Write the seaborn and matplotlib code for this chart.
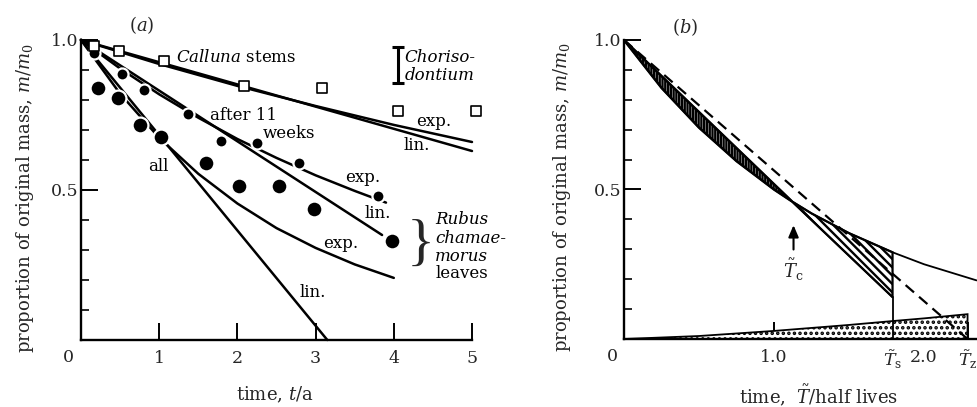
import numpy as np
import pandas as pd
import matplotlib
matplotlib.use("Agg")
import matplotlib.pyplot as plt
import seaborn as sns

# ---------------- panel (a) data ----------------
calluna_t = [0.17, 0.49, 1.06, 2.08, 3.08, 4.05, 5.05]
calluna_m = [0.98, 0.963, 0.93, 0.847, 0.84, 0.763, 0.763]
after11_t = [0.17, 0.52, 0.81, 1.37, 1.79, 2.25, 2.79, 3.80]
after11_m = [0.957, 0.887, 0.833, 0.753, 0.663, 0.657, 0.59, 0.48]
all_t = [0.22, 0.47, 0.75, 1.02, 1.60, 2.02, 2.53, 2.98, 3.98]
all_m = [0.84, 0.807, 0.717, 0.677, 0.59, 0.513, 0.513, 0.437, 0.33]

# fitted curves
calluna_exp_t = [0, 1, 2, 3, 4, 5]
calluna_exp_m = [1.0, 0.92, 0.847, 0.78, 0.717, 0.66]
calluna_lin_t = [0, 5]
calluna_lin_m = [1.0, 0.63]
after11_exp_t = [0, 0.5, 1, 1.5, 2, 2.5, 3, 3.5, 3.9]
after11_exp_m = [1.0, 0.905, 0.819, 0.741, 0.670, 0.607, 0.549, 0.497, 0.458]
after11_lin_t = [0, 3.85]
after11_lin_m = [1.0, 0.35]
all_exp_t = [0, 0.5, 1, 1.5, 2, 2.5, 3, 3.5, 4]
all_exp_m = [1.0, 0.821, 0.674, 0.554, 0.455, 0.373, 0.307, 0.252, 0.207]
all_lin_t = [0, 3.15]
all_lin_m = [1.0, 0.0]
choriso_t = 4.05
choriso_lo, choriso_hi = 0.857, 0.977

a_xticks = [1, 2, 3, 4, 5]
a_xticklabels = ["1", "2", "3", "4", "5"]
yticks = [0.5, 1.0]
yticklabels = ["0.5", "1.0"]
yminor = [0.1, 0.2, 0.3, 0.4, 0.6, 0.7, 0.8, 0.9]

# ---------------- panel (b) data ----------------
Tc, Ts, Tz = 1.12, 1.79, 2.29
expo_T = [0, 0.25, 0.5, 0.75, 1.0, 1.12, 1.25, 1.5, 1.79, 2.0, 2.35]
expo_m = [1.0, 0.84, 0.707, 0.595, 0.5, 0.46, 0.42, 0.354, 0.29, 0.25, 0.196]
secant_T = [0, 1.12, 1.79]
secant_m = [1.0, 0.46, 0.14]
dash_T = [0, 2.29]
dash_m = [1.0, 0.0]
wedge_T = [0, 0.5, 1.0, 1.5, 1.79, 2.0, 2.29]
wedge_m = [0, 0.01, 0.027, 0.047, 0.06, 0.069, 0.083]
b_xticks = [1.0, Ts, 2.0, Tz]
b_xticklabels = ["1.0", r"$\tilde{T}_{\mathrm{s}}$", "2.0", r"$\tilde{T}_{\mathrm{z}}$"]

# ---------------- style ----------------
sns.set_style("ticks")
plt.rcParams["font.family"] = ["DejaVu Serif"]
plt.rcParams["mathtext.fontset"] = "dejavuserif"
plt.rcParams["hatch.linewidth"] = 1.7
FS = 12.5

fig = plt.figure(figsize=(9.77, 4.07), dpi=100)
W, H = 977.0, 407.0
ax1 = fig.add_axes([81 / W, 67 / H, 391 / W, 300 / H])
ax2 = fig.add_axes([624 / W, 68 / H, 353 / W, 299 / H])


def style_axis(ax):
    for s in ["top", "right"]:
        ax.spines[s].set_visible(False)
    for s in ["left", "bottom"]:
        ax.spines[s].set_linewidth(1.7)
        ax.spines[s].set_color("black")
    ax.set_ylim(0, 1.0)
    ax.set_yticks(yticks)
    ax.set_yticklabels(yticklabels)
    ax.set_yticks(yminor, minor=True)
    ax.tick_params(axis="both", which="major", direction="in", length=12,
                   width=1.4, labelsize=FS, color="black")
    ax.tick_params(axis="y", which="minor", direction="in", length=6, width=1.4)
    ax.tick_params(axis="y", which="major", pad=2)
    ax.tick_params(axis="x", which="major", pad=7)
    ax.set_facecolor("white")


# ---------------- panel (a) ----------------
lw = 1.8
for tt, mm in [(calluna_exp_t, calluna_exp_m), (calluna_lin_t, calluna_lin_m),
               (after11_exp_t, after11_exp_m), (after11_lin_t, after11_lin_m),
               (all_exp_t, all_exp_m), (all_lin_t, all_lin_m)]:
    sns.lineplot(x=tt, y=mm, ax=ax1, color="black", lw=lw, sort=False,
                 estimator=None, clip_on=False)

sns.scatterplot(x=all_t, y=all_m, ax=ax1, s=130, color="black",
                edgecolor="white", linewidth=1.6, zorder=5, clip_on=False)
sns.scatterplot(x=after11_t, y=after11_m, ax=ax1, s=75, color="black",
                edgecolor="white", linewidth=1.6, zorder=5, clip_on=False)
sns.scatterplot(x=calluna_t, y=calluna_m, ax=ax1, s=42, marker="s",
                facecolor="white", edgecolor="black", linewidth=1.2,
                zorder=6, clip_on=False)
ax1.errorbar([choriso_t], [(choriso_lo + choriso_hi) / 2],
             yerr=[[(choriso_hi - choriso_lo) / 2]], fmt="none",
             ecolor="black", elinewidth=2.2, capsize=4, capthick=2.2)

style_axis(ax1)
ax1.set_xlim(0, 5)
ax1.set_xticks(a_xticks)
ax1.set_xticklabels(a_xticklabels)
ax1.set_xlabel(r"time, $t$/a", fontsize=13, va="center")
ax1.xaxis.set_label_coords(0.496, -0.183)
ax1.set_ylabel(r"proportion of original mass, $m/m_0$", fontsize=13, va="center")
ax1.yaxis.set_label_coords(-0.143, 0.473)
ax1.text(-0.165, -0.057, "0", fontsize=FS, ha="center", va="center")

tk = dict(fontsize=12, ha="left", va="center", color="black")
ax1.text(1.215, 0.943, r"$Calluna$ stems", **tk)
ax1.text(1.65, 0.747, "after 11", **tk)
ax1.text(2.33, 0.69, "weeks", **tk)
ax1.text(0.857, 0.577, "all", **tk)
ax1.text(3.376, 0.54, "exp.", **tk)
ax1.text(3.63, 0.42, "lin.", **tk)
ax1.text(3.095, 0.323, "exp.", **tk)
ax1.text(2.79, 0.157, "lin.", **tk)
ax1.text(4.28, 0.727, "exp.", **tk)
ax1.text(4.13, 0.647, "lin.", **tk)
ax1.text(4.14, 0.943, "Choriso-", style="italic", **tk)
ax1.text(4.14, 0.883, "dontium", style="italic", **tk)
ax1.text(4.34, 0.313, "}", fontsize=42, ha="center", va="center",
         family="Liberation Serif")
ax1.text(4.53, 0.40, "Rubus", style="italic", **tk)
ax1.text(4.53, 0.337, "chamae-", style="italic", **tk)
ax1.text(4.53, 0.277, "morus", style="italic", **tk)
ax1.text(4.53, 0.22, "leaves", **tk)

# ---------------- panel (b) ----------------
blw = 1.3
# hatched lens between secant and curve, 0..Tc
lens_T = [t for t in expo_T if t <= Tc] + [0]
lens_m = [m for t, m in zip(expo_T, expo_m) if t <= Tc] + [1.0]
ax2.fill(lens_T, lens_m, facecolor="white", edgecolor="black", hatch="||||||",
         linewidth=1.8)
tri_T = [t for t in expo_T if Tc <= t <= Ts] + [Ts]
tri_m = [m for t, m in zip(expo_T, expo_m) if Tc <= t <= Ts] + [secant_m[-1]]
ax2.fill(tri_T, tri_m, facecolor="white", edgecolor="black", hatch="\\\\\\\\",
         linewidth=1.6)
wedge_poly_T = wedge_T + [Tz, 0]
wedge_poly_m = wedge_m + [0, 0]
ax2.fill(wedge_poly_T, wedge_poly_m, facecolor="white", edgecolor="black",
         hatch="...", linewidth=blw, zorder=2)

sns.lineplot(x=expo_T, y=expo_m, ax=ax2, color="black", lw=blw, sort=False,
             estimator=None)
sns.lineplot(x=secant_T, y=secant_m, ax=ax2, color="black", lw=blw, sort=False,
             estimator=None)
ax2.plot(dash_T, dash_m, color="black", lw=1.6, ls=(0, (5, 3)), zorder=3)
ax2.plot([Ts, Ts], [0, secant_m[-1]], color="black", lw=blw, zorder=3)

ax2.annotate("", xy=(Tc + 0.01, 0.39), xytext=(Tc + 0.01, 0.29),
             arrowprops=dict(arrowstyle="-|>,head_width=0.3,head_length=0.7",
                             color="black", lw=1.5))
ax2.text(Tc + 0.01, 0.23, r"$\tilde{T}_{\mathrm{c}}$", fontsize=13,
         ha="center", va="center")

style_axis(ax2)
ax2.set_xlim(0, 2.353)
ax2.set_xticks(b_xticks)
ax2.set_xticklabels(b_xticklabels)
ax2.set_xlabel(r"time,  $\tilde{T}$/half lives", fontsize=13, va="center")
ax2.xaxis.set_label_coords(0.55, -0.187)
ax2.set_ylabel(r"proportion of original mass, $m/m_0$", fontsize=13, va="center")
ax2.yaxis.set_label_coords(-0.176, 0.473)
ax2.text(-0.075, -0.06, "0", fontsize=FS, ha="center", va="center")

fig.text(142 / W, 1 - 25 / H, r"($a$)", fontsize=13, ha="center", va="center")
fig.text(685 / W, 1 - 27 / H, r"($b$)", fontsize=13, ha="center", va="center")

fig.savefig("out.png", dpi=100, facecolor="white")
